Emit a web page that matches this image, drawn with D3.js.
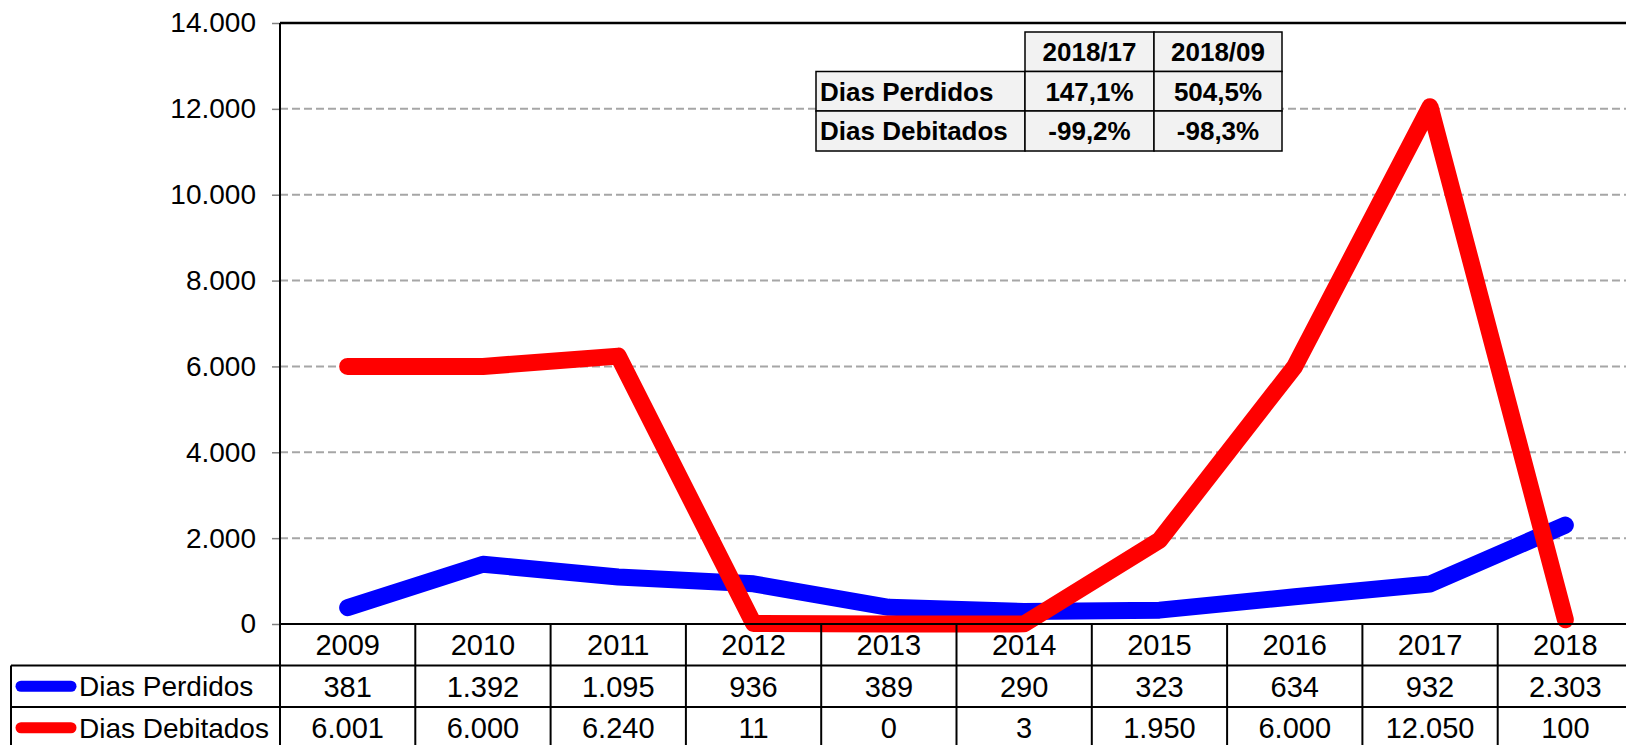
<!DOCTYPE html>
<html>
<head>
<meta charset="utf-8">
<script src="https://cdn.jsdelivr.net/npm/d3@7"></script>
<style>
  body { margin: 0; background: #fff; }
  text { font-family: "Liberation Sans", Arial, sans-serif; fill: #000; }
</style>
</head>
<body>
<svg id="chart" width="1626" height="745"></svg>
<script>
// data
var years = ["2009","2010","2011","2012","2013","2014","2015","2016","2017","2018"];
var diasPerdidos = [381, 1392, 1095, 936, 389, 290, 323, 634, 932, 2303];
var diasDebitados = [6001, 6000, 6240, 11, 0, 3, 1950, 6000, 12050, 100];
var seriesNames = ["Dias Perdidos", "Dias Debitados"];
var seriesColors = ["#0000ff", "#ff0000"];
var yTicks = [0, 2000, 4000, 6000, 8000, 10000, 12000, 14000];

// small summary table in the top
var varHeaders = ["2018/17", "2018/09"];
var varPerdidos = ["147,1%", "504,5%"];
var varDebitados = ["-99,2%", "-98,3%"];

var svg = d3.select("#chart");

// (don't call it "top", that's window.top)
var plotLeft = 280, plotRight = 1633, plotTop = 23, zeroY = 624;
var rowH = 41.5;

var pt = d3.formatLocale({decimal: ",", thousands: ".", grouping: [3], currency: ["", ""]});
var fmt = pt.format(",d");

var x = d3.scaleBand().domain(years).range([plotLeft, plotRight]).padding(0);
var y = d3.scaleLinear().domain([0, 14000]).range([zeroY, plotTop]);

function cx(d){ return x(d) + x.bandwidth()/2; }

//gridlines
svg.append("g").selectAll("line")
    .data(yTicks.filter(function(d){ return d > 0 && d < 14000; }))
    .enter().append("line")
    .attr("x1", plotLeft).attr("x2", plotRight)
    .attr("y1", function(d){ return y(d); })
    .attr("y2", function(d){ return y(d); })
    .attr("stroke", "#a6a6a6")
    .attr("stroke-width", 2)
    .attr("stroke-dasharray", "8,4");

//y axis
var yAxis = svg.append("g")
    .attr("transform", "translate(" + plotLeft + ",0)")
    .call(d3.axisLeft(y).tickValues(yTicks).tickFormat(fmt).tickSize(8).tickPadding(16));
yAxis.select(".domain").remove();
yAxis.selectAll(".tick line").attr("stroke", "#808080").attr("stroke-width", 1.5);
yAxis.selectAll("text")
    .style("font-family", "Liberation Sans, Arial, sans-serif")
    .style("font-size", "28px")
    .attr("fill", "#000");

//frame
svg.append("line").attr("x1", plotLeft).attr("x2", plotRight)
    .attr("y1", y(14000)).attr("y2", y(14000))
    .attr("stroke", "#000").attr("stroke-width", 2.5);
svg.append("line").attr("x1", plotLeft).attr("x2", plotLeft)
    .attr("y1", y(14000)).attr("y2", zeroY)
    .attr("stroke", "#000").attr("stroke-width", 2);

//lines
var line = d3.line()
    .x(function(d, i){ return cx(years[i]); })
    .y(function(d){ return y(d); });

[diasPerdidos, diasDebitados].forEach(function(vals, k){
    svg.append("path")
        .datum(vals)
        .attr("d", line)
        .attr("fill", "none")
        .attr("stroke", seriesColors[k])
        .attr("stroke-width", 17)
        .attr("stroke-linecap", "round")
        .attr("stroke-linejoin", "round");
});

//data table under the chart
var tbl = svg.append("g");
var rowTops = [zeroY, zeroY + rowH, zeroY + 2*rowH];
var tblBottom = 760;

// horizontal rules
tbl.append("line").attr("x1", plotLeft).attr("x2", plotRight).attr("y1", rowTops[0]).attr("y2", rowTops[0]);
tbl.append("line").attr("x1", 11).attr("x2", plotRight).attr("y1", rowTops[1]).attr("y2", rowTops[1]);
tbl.append("line").attr("x1", 11).attr("x2", plotRight).attr("y1", rowTops[2]).attr("y2", rowTops[2]);
tbl.append("line").attr("x1", 11).attr("x2", 11).attr("y1", rowTops[1]).attr("y2", tblBottom);
// vertical rules
tbl.selectAll(".vr").data(years).enter().append("line")
    .attr("class", "vr")
    .attr("x1", function(d){ return x(d); })
    .attr("x2", function(d){ return x(d); })
    .attr("y1", rowTops[0]).attr("y2", tblBottom);
tbl.append("line").attr("x1", plotRight).attr("x2", plotRight).attr("y1", rowTops[0]).attr("y2", tblBottom);
tbl.selectAll("line").attr("stroke", "#000").attr("stroke-width", 2);

// year labels
tbl.selectAll(".yr").data(years).enter().append("text")
    .attr("x", cx)
    .attr("y", rowTops[0] + rowH/2)
    .attr("dy", "0.36em")
    .attr("text-anchor", "middle")
    .style("font-size", "29px")
    .text(function(d){ return d; });

[diasPerdidos, diasDebitados].forEach(function(vals, k){
    var mid = rowTops[k+1] + rowH/2;
    tbl.selectAll(".v" + k).data(vals).enter().append("text")
        .attr("x", function(d, i){ return cx(years[i]); })
        .attr("y", mid)
        .attr("dy", "0.36em")
        .attr("text-anchor", "middle")
        .style("font-size", "29px")
        .text(function(d){ return fmt(d); });

    //legend key
    tbl.append("line")
        .attr("x1", 21).attr("x2", 71)
        .attr("y1", mid).attr("y2", mid)
        .attr("stroke", seriesColors[k])
        .attr("stroke-width", 11)
        .attr("stroke-linecap", "round");
    tbl.append("text")
        .attr("x", 79).attr("y", mid)
        .attr("dy", "0.36em")
        .style("font-size", "28px")
        .text(seriesNames[k]);
});

//variation table in the plot
var inset = svg.append("g");
var colX = [816, 1025, 1154, 1282];
var insRows = [32, 71.5, 111, 151];
var insData = [[null].concat(varHeaders), [seriesNames[0]].concat(varPerdidos), [seriesNames[1]].concat(varDebitados)];

insData.forEach(function(row, r){
    row.forEach(function(v, c){
        if (v === null) return;
        inset.append("rect")
            .attr("x", colX[c]).attr("y", insRows[r])
            .attr("width", colX[c+1] - colX[c])
            .attr("height", insRows[r+1] - insRows[r])
            .attr("fill", "#f2f2f2")
            .attr("stroke", "#000")
            .attr("stroke-width", 1.5);
        inset.append("text")
            .attr("x", c === 0 ? colX[0] + 4 : (colX[c] + colX[c+1])/2)
            .attr("y", (insRows[r] + insRows[r+1])/2)
            .attr("dy", "0.36em")
            .attr("text-anchor", c === 0 ? "start" : "middle")
            .style("font-size", "26px")
            .style("font-weight", "bold")
            .text(v);
    });
});
</script>
</body>
</html>
